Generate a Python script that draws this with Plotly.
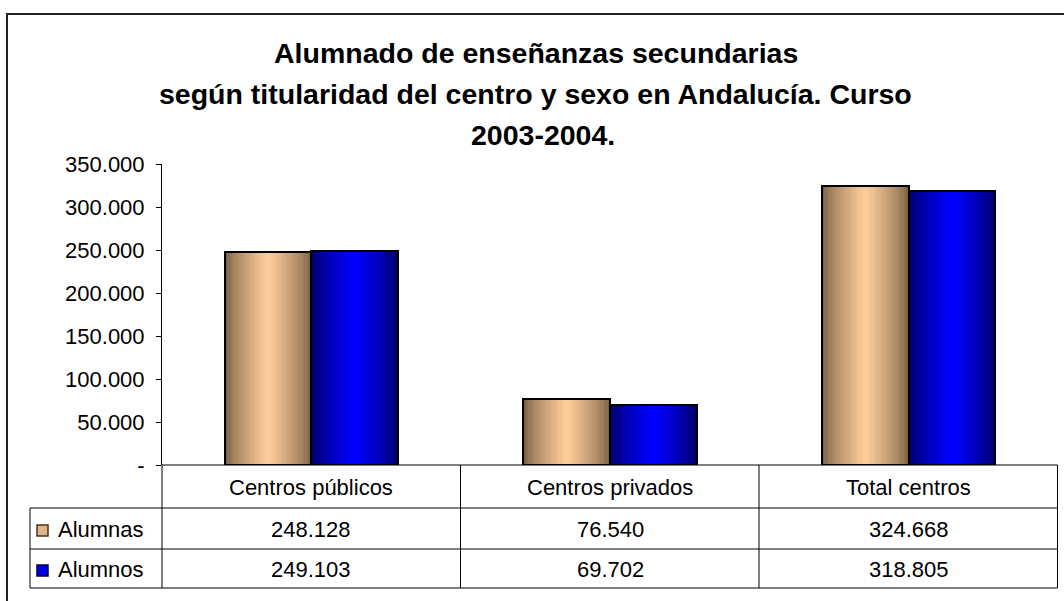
import plotly.graph_objects as go

# ---- data ----
categories = ["Centros públicos", "Centros privados", "Total centros"]
series_names = ["Alumnas", "Alumnos"]
alumnas = [248128, 76540, 324668]
alumnos = [249103, 69702, 318805]
y_tickvals = [0, 50000, 100000, 150000, 200000, 250000, 300000, 350000]
y_ticktext = ["-", "50.000", "100.000", "150.000", "200.000", "250.000", "300.000", "350.000"]
title_lines = ["Alumnado de enseñanzas secundarias",
               "según titularidad del centro y sexo en Andalucía. Curso",
               "2003-2004."]

W, H = 1064, 601
ML, MR, MT, MB = 162, 6, 164, 136
PW, PH = W - ML - MR, H - MT - MB
FONT = "Arial, Liberation Sans, sans-serif"
FS = 22


def px(x):
    return (x - ML) / PW


def py(y):
    return (H - MB - y) / PH


def fmt(v):
    return f"{v:,}".replace(",", ".")


def mix(c1, c2, t):
    return "rgb(%d,%d,%d)" % tuple(round(a + (b - a) * t) for a, b in zip(c1, c2))


fig = go.Figure()

BW = 0.29  # bar width in category units
N = 18
styles = [
    ((125, 98, 70), (252, 204, 153), -1),   # Alumnas tan
    ((0, 0, 105), (0, 0, 255), 0),         # Alumnos blue
]
for vals, (dark, light, side) in zip([alumnas, alumnos], styles):
    center = side * BW + BW / 2
    for k in range(N):
        t = (k / (N - 1)) ** 0.75
        w = BW * (1 - k / N)
        fig.add_trace(go.Bar(
            x=categories, y=vals, width=w, offset=center - w / 2,
            marker=dict(color=mix(dark, light, t), line=dict(width=0)),
            showlegend=False, hoverinfo="skip"))
    fig.add_trace(go.Bar(
        x=categories, y=vals, width=BW, offset=center - BW / 2,
        marker=dict(color="rgba(0,0,0,0)", line=dict(color="black", width=2)),
        showlegend=False, hoverinfo="skip"))

shapes = []
line = dict(color="black", width=1)
# outer frame
shapes.append(dict(type="rect", xref="paper", yref="paper",
                   x0=px(7), x1=px(1200), y0=py(700), y1=py(14),
                   line=dict(color="#222", width=2), layer="above"))
# table lines
for xv in [162, 460.5, 759, 1057.5]:
    shapes.append(dict(type="line", xref="paper", yref="paper",
                       x0=px(xv), x1=px(xv), y0=py(465), y1=py(588), line=line))
shapes.append(dict(type="line", xref="paper", yref="paper",
                   x0=px(30), x1=px(30), y0=py(508), y1=py(588), line=line))
shapes.append(dict(type="line", xref="paper", yref="paper",
                   x0=px(162), x1=px(1057.5), y0=py(465), y1=py(465), line=line))
for yv in [508, 549, 588]:
    shapes.append(dict(type="line", xref="paper", yref="paper",
                       x0=px(30), x1=px(1057.5), y0=py(yv), y1=py(yv), line=line))

annotations = []
for i, t in enumerate(title_lines):
    cx = [535.5, 535.5, 543][i]
    cy = [53, 94, 135][i]
    annotations.append(dict(text=t, xref="paper", yref="paper", x=px(cx), y=py(cy),
                            xanchor="center", yanchor="middle", showarrow=False,
                            font=dict(family=FONT, size=28.5, color="black", weight="bold")))
for c in categories:
    annotations.append(dict(text=c, xref="x", yref="paper", x=c, y=py(487),
                            xanchor="center", yanchor="middle", showarrow=False,
                            font=dict(family=FONT, size=FS, color="black")))
row_y = [529, 569]
key_fill = ["rgb(225,180,135)", "rgb(0,0,230)"]
key_line = ["rgb(70,50,30)", "rgb(0,0,60)"]
for name, vals, ry, kf, kl in zip(series_names, [alumnas, alumnos], row_y, key_fill, key_line):
    annotations.append(dict(text=name, xref="paper", yref="paper", x=px(56), y=py(ry),
                            xanchor="left", yanchor="middle", showarrow=False,
                            font=dict(family=FONT, size=FS, color="black")))
    shapes.append(dict(type="rect", xref="paper", yref="paper",
                       x0=px(37), x1=px(48), y0=py(ry + 7), y1=py(ry - 4),
                       fillcolor=kf, line=dict(color=kl, width=1.5)))
    for c, v in zip(categories, vals):
        annotations.append(dict(text=fmt(v), xref="x", yref="paper", x=c, y=py(ry),
                                xanchor="center", yanchor="middle", showarrow=False,
                                font=dict(family=FONT, size=FS, color="black")))

fig.update_layout(
    width=W, height=H,
    margin=dict(l=ML, r=MR, t=MT, b=MB, pad=0),
    paper_bgcolor="white", plot_bgcolor="white",
    barmode="overlay", bargap=0,
    showlegend=False,
    font=dict(family=FONT, size=FS, color="black"),
    xaxis=dict(type="category", categoryorder="array", categoryarray=categories,
               range=[-0.5, 2.5], showticklabels=False, ticks="", showgrid=False,
               showline=False, zeroline=False, fixedrange=True),
    yaxis=dict(range=[0, 350000], tickvals=y_tickvals, ticktext=y_ticktext,
               ticks="outside", ticklen=5, tickcolor="black", tickwidth=1,
               showline=True, linecolor="black", linewidth=1, showgrid=False,
               zeroline=False, ticklabelstandoff=7,
               tickfont=dict(family=FONT, size=FS, color="black"), fixedrange=True),
    shapes=shapes, annotations=annotations,
)

fig.write_html("out.html", config={"displayModeBar": False},
               post_script="document.body.style.margin='0px';document.body.style.overflow='hidden';")
